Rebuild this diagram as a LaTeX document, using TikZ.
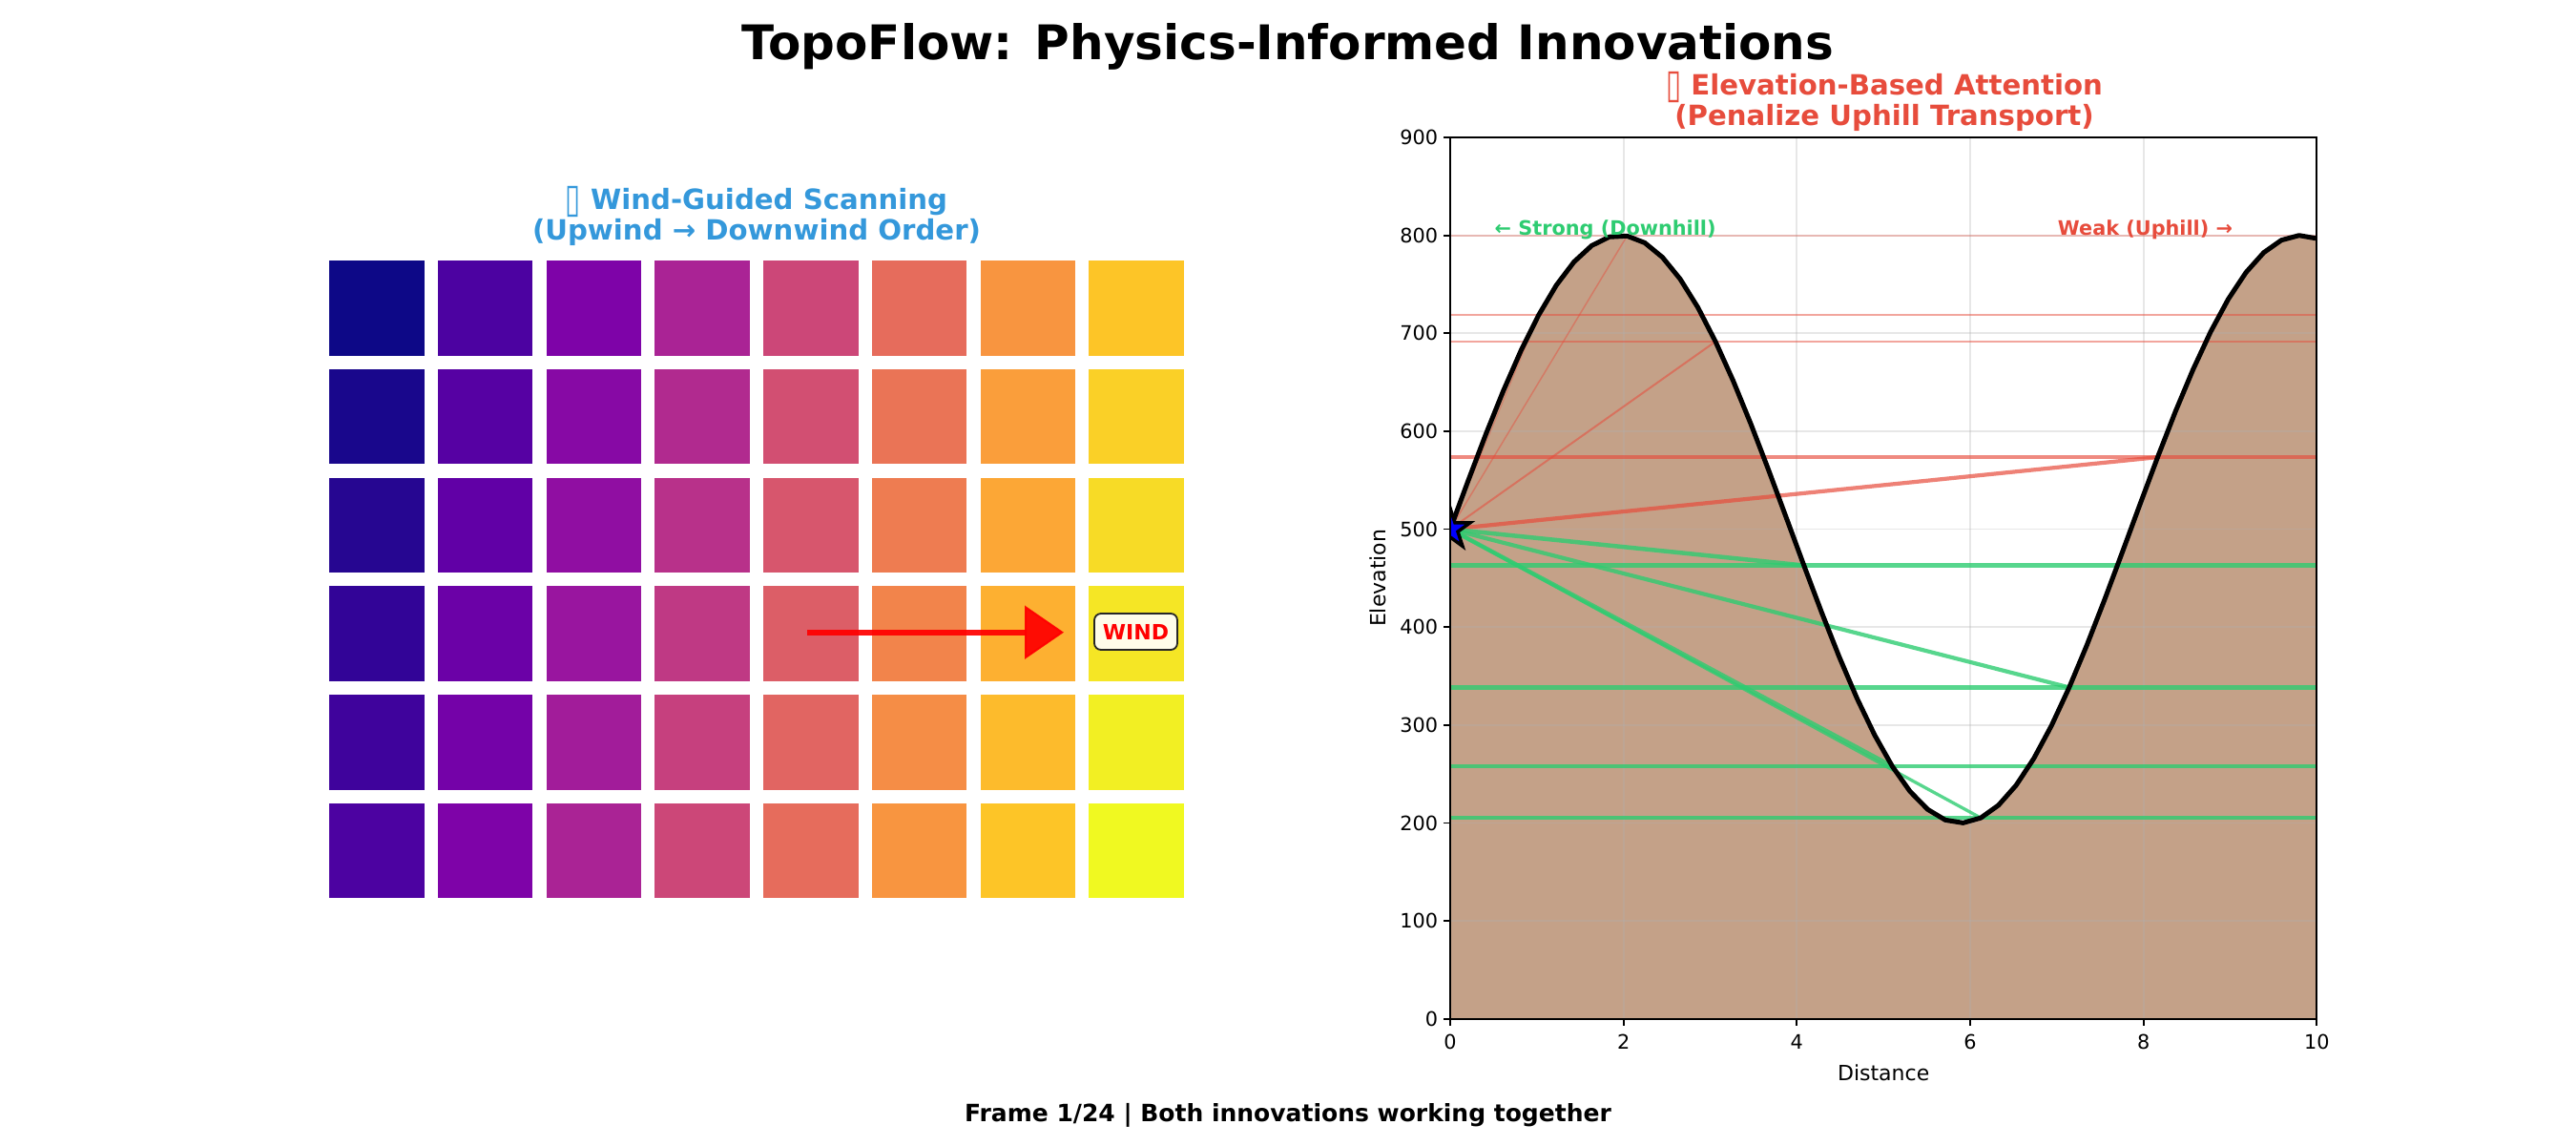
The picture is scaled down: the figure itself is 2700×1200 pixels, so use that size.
\documentclass[tikz,border=0pt]{standalone}
\usepackage{fontspec}
\usepackage{graphicx}
\setmainfont{DejaVu Sans}
\usetikzlibrary{arrows.meta}
\definecolor{pl0}{HTML}{0D0887}
\definecolor{pl1}{HTML}{2C0594}
\definecolor{pl2}{HTML}{4C02A1}
\definecolor{pl3}{HTML}{6600A7}
\definecolor{pl4}{HTML}{7E03A8}
\definecolor{pl5}{HTML}{9511A1}
\definecolor{pl6}{HTML}{AA2395}
\definecolor{pl7}{HTML}{BC3587}
\definecolor{pl8}{HTML}{CC4778}
\definecolor{pl9}{HTML}{DA5A6A}
\definecolor{pl10}{HTML}{E66C5C}
\definecolor{pl11}{HTML}{F0804E}
\definecolor{pl12}{HTML}{F89540}
\definecolor{pl13}{HTML}{FDAB33}
\definecolor{pl14}{HTML}{FDC527}
\definecolor{pl15}{HTML}{F6E126}
\definecolor{pl16}{HTML}{F0F921}
\definecolor{redT}{HTML}{E74C3C}
\definecolor{greenT}{HTML}{2ECC71}
\definecolor{blueT}{HTML}{3498DB}
\definecolor{terrain}{HTML}{8B4513}
\definecolor{gridc}{HTML}{B0B0B0}
\newcommand\tofubox{\raisebox{-3.5pt}{\scalebox{1}[1.45]{▯}}}
\tikzset{
  maintitle/.style={font=\fontsize{50}{60}\selectfont\bfseries},
  subtitle/.style={font=\fontsize{29.2}{35}\selectfont\bfseries},
  footer/.style={font=\fontsize{25}{30}\selectfont\bfseries},
  ticklab/.style={font=\fontsize{20.8}{25}\selectfont},
  axlab/.style={font=\fontsize{22}{26}\selectfont},
  annot/.style={font=\fontsize{20.8}{25}\selectfont\bfseries},
  tile/.style={minimum width=99.5pt, minimum height=99.5pt, inner sep=0pt, draw=none},
  windarrow/.style={draw=red, line width=6pt, opacity=0.93, -{Triangle[length=41pt,width=56pt,line width=2pt]}},
  windlab/.style={draw=black!85, line width=1.8pt, fill=white, fill opacity=0.9, text opacity=1,
    rounded corners=7pt, minimum width=87pt, minimum height=38pt, inner sep=0pt,
    text=red, font=\fontsize{22}{22}\selectfont\bfseries},
  gridl/.style={draw=gridc, draw opacity=0.3, line width=1.7pt},
  spine/.style={draw=black, line width=1.7pt},
  tickm/.style={draw=black, line width=1.7pt},
  terrainfill/.style={fill=terrain, fill opacity=0.5},
  terrainline/.style={draw=black, line width=5pt, line join=round},
  hred/.style={draw=redT, line width=#1},
  hgreen/.style={draw=greenT, line width=#1, draw opacity=0.8},
  srcstar/.style={fill=blue, draw=black, line width=3.5pt, line join=miter},
}
\begin{document}
\begin{tikzpicture}[x=1pt,y=-1pt, every node/.style={inner sep=0pt, outer sep=0pt}]
\useasboundingbox (0,0) rectangle (2700,1200);
\fill[white] (0,0) rectangle (2700,1200);

% ---------- titles ----------
\node[maintitle, anchor=base] (maintitle) at (1350,62.7) {TopoFlow: Physics-Informed Innovations};
\node[subtitle, text=blueT, anchor=base] (lt1) at (793,219.3) {\tofubox{} Wind-Guided Scanning};
\node[subtitle, text=blueT, anchor=base] (lt2) at (793,251.7) {(Upwind → Downwind Order)};
\node[subtitle, text=redT, anchor=base] (rt1) at (1975,99.3) {\tofubox{} Elevation-Based Attention};
\node[subtitle, text=redT, anchor=base] (rt2) at (1975,131.5) {(Penalize Uphill Transport)};
\node[footer, anchor=base] (foot) at (1350,1175) {Frame 1/24 | Both innovations working together};

% ---------- left panel: tiles ----------
\foreach \c in {0,...,7}{
  \foreach \r in {0,...,5}{
    \pgfmathsetmacro\v{2*\c+0.4*\r}
    \pgfmathtruncatemacro\k{floor(\v+0.0001)}
    \pgfmathtruncatemacro\kk{min(\k+1,16)}
    \pgfmathtruncatemacro\pct{round((\v-\k)*100)}
    \pgfmathsetmacro\cx{345+113.75*\c+49.75}
    \pgfmathsetmacro\cy{273+113.75*\r+49.75}
    \node[tile, fill={pl\kk!\pct!pl\k}] (tile-\c-\r) at (\cx,\cy) {};
  }
}
\coordinate (windS) at (846,662.7);
\coordinate (windE) at (1115,662.7);
\draw[windarrow] (windS) -- (windE);
\node[windlab] (windlabel) at (1190.5,662) {WIND};

% ---------- right panel ----------
\begin{scope}[shift={(1520,1067.7)}, x=90.83pt, y=1.0263pt]
  \coordinate (axl) at (0,0);
  \coordinate (axr) at (10,0);
  \coordinate (src) at (0,500);
  \foreach \i in {5,10,...,40}{
    \pgfmathsetmacro\tx{\i*10/49}
    \pgfmathsetmacro\ty{500+300*sin(45.83662*\tx)}
    \coordinate (t\i) at (\tx,\ty);
  }
  \begin{scope}
    \clip (0,0) rectangle (10,900);
    \fill[terrainfill] (0,0) -- plot[domain=0:10, samples=50] (\x,{500+300*sin(45.83662*\x)}) -- (10,0) -- cycle;
    \foreach \gx in {0,2,...,10} \draw[gridl] (\gx,0) -- (\gx,900);
    \foreach \gy in {0,100,...,900} \draw[gridl] (0,\gy) -- (10,\gy);
    % uphill (weak) connections
    \draw[hred=2.2pt, draw opacity=0.3] (t10 -| axl) -- (t10 -| axr);
    \draw[hred=2.5pt, draw opacity=0.5] (t5 -| axl) -- (t5 -| axr);
    \draw[hred=2.5pt, draw opacity=0.5] (t15 -| axl) -- (t15 -| axr);
    \draw[hred=3.8pt, draw opacity=0.65] (t40 -| axl) -- (t40 -| axr);
    \draw[hred=1.2pt, draw opacity=0.35] (src) -- (t5);
    \draw[hred=1.5pt, draw opacity=0.45] (src) -- (t10);
    \draw[hred=2pt, draw opacity=0.55] (src) -- (t15);
    \draw[hred=4.2pt, draw opacity=0.7] (src) -- (t40);
    % downhill (strong) connections
    \foreach \i in {20,25,30,35}{
      \draw[hgreen=4.2pt] (t\i -| axl) -- (t\i -| axr);
    }
    \draw[hgreen=4.5pt] (src) -- (t20);
    \draw[hgreen=4.5pt] (src) -- (t25);
    \draw[hgreen=3.3pt] (src) -- (t30);
    \draw[hgreen=4.2pt] (src) -- (t35);
    % terrain profile
    \draw[terrainline] plot[domain=0:10, samples=50] (\x,{500+300*sin(45.83662*\x)});
    % source marker
    \draw[srcstar, shift={(src)}] (90:22pt) -- (126:8.4pt) -- (162:22pt) -- (198:8.4pt) -- (234:22pt)
      -- (270:8.4pt) -- (306:22pt) -- (342:8.4pt) -- (18:22pt) -- (54:8.4pt) -- cycle;
  \end{scope}
  \draw[spine] (0,0) rectangle (10,900);
  \foreach \gx in {0,2,...,10}{
    \draw[tickm] (\gx,0) -- ++(0,-7.3pt);
    \node[ticklab, anchor=base, yshift=-31.6pt] (xt\gx) at (\gx,0) {\gx};
  }
  \foreach \gy in {0,100,...,900}{
    \draw[tickm] (0,\gy) -- ++(-7.3pt,0);
    \node[ticklab, anchor=base east, xshift=-13pt, yshift=-7.6pt] (yt\gy) at (0,\gy) {\gy};
  }
  \node[axlab, anchor=base, yshift=-65pt] (xlab) at (5,0) {Distance};
  \node[axlab, rotate=90, anchor=base] (ylab) at ([xshift=-68pt]0,450) {Elevation};
\end{scope}
\node[annot, text=greenT, anchor=base west] (strong) at (1566.7,246.5) {← Strong (Downhill)};
\node[annot, text=redT, anchor=base east] (weak) at (2340,246.5) {Weak (Uphill) →};
\end{tikzpicture}
\end{document}
